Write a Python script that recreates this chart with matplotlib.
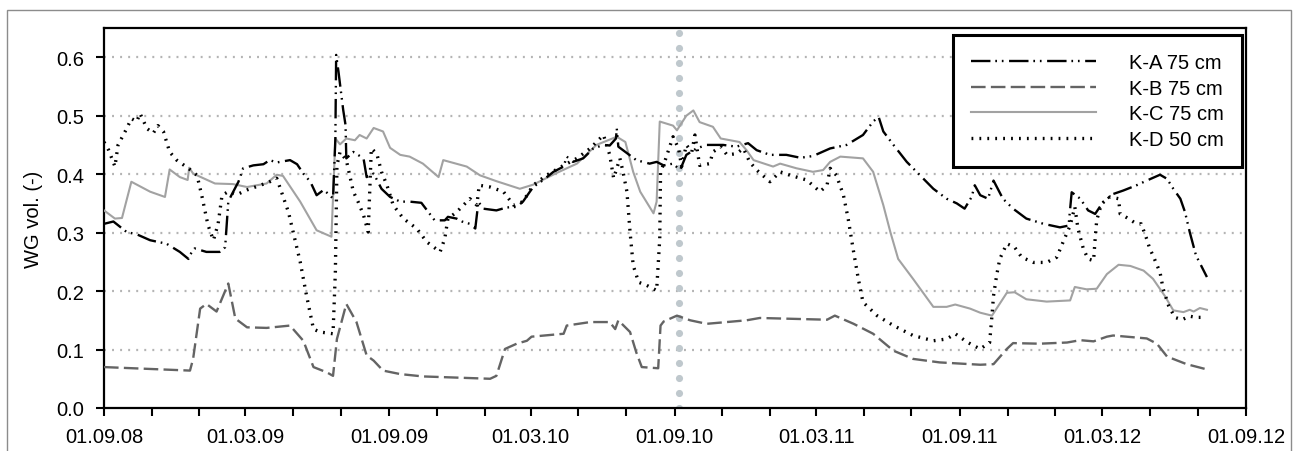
import matplotlib
matplotlib.use("Agg")
import matplotlib.pyplot as plt
import matplotlib.dates as mdates
from matplotlib.patches import Rectangle
import pandas as pd

plt.rcParams['font.family'] = ['Liberation Sans', 'DejaVu Sans']
plt.rcParams['lines.scale_dashes'] = False

START = pd.Timestamp('2008-09-01')
END = pd.Timestamp('2012-09-01')
MARKER_DATE = pd.Timestamp('2010-09-06')

labels = ['K-A 75 cm', 'K-B 75 cm', 'K-C 75 cm', 'K-D 50 cm']

# days since 01.09.08 and volumetric water content (-)
days_A = [0, 12, 29, 42, 59, 80, 97, 108, 110, 116, 131, 148, 155, 157, 159, 163, 172, 178, 191, 204,
          212, 221, 238, 247, 255, 264, 272, 281, 289, 293, 296, 297, 300, 306, 309, 310, 319, 332, 336, 345,
          355, 366, 379, 391, 406, 415, 423, 436, 440, 451, 458, 468, 475, 479, 485, 502, 515, 528, 536, 549,
          562, 575, 588, 592, 600, 613, 626, 639, 647, 655, 656, 658, 664, 681, 698, 707, 716, 728, 737, 745,
          758, 771, 792, 809, 824, 835, 852, 873, 891, 907, 929, 950, 971, 984, 991, 997, 1010, 1027, 1044, 1061,
          1078, 1091, 1101, 1110, 1114, 1121, 1131, 1138, 1150, 1163, 1180, 1202, 1223, 1234, 1236, 1238, 1249, 1259, 1268, 1278,
          1291, 1304, 1321, 1334, 1351, 1360, 1368, 1377, 1383, 1389, 1397, 1411]
vals_A = [0.315, 0.319, 0.301, 0.297, 0.287, 0.281, 0.267, 0.255, 0.262, 0.273, 0.267, 0.267, 0.275, 0.313, 0.353, 0.364, 0.387, 0.410, 0.415, 0.417,
          0.424, 0.420, 0.424, 0.417, 0.401, 0.387, 0.364, 0.373, 0.364, 0.358, 0.461, 0.604, 0.575, 0.510, 0.484, 0.427, 0.438, 0.427, 0.395, 0.401,
          0.375, 0.361, 0.353, 0.353, 0.351, 0.335, 0.321, 0.321, 0.327, 0.324, 0.319, 0.315, 0.307, 0.353, 0.341, 0.338, 0.343, 0.344, 0.353, 0.378,
          0.390, 0.404, 0.413, 0.430, 0.421, 0.427, 0.444, 0.450, 0.449, 0.461, 0.478, 0.447, 0.441, 0.424, 0.418, 0.421, 0.415, 0.418, 0.407, 0.433,
          0.444, 0.450, 0.450, 0.447, 0.453, 0.441, 0.433, 0.433, 0.428, 0.431, 0.444, 0.450, 0.467, 0.490, 0.498, 0.473, 0.450, 0.421, 0.398, 0.375,
          0.358, 0.350, 0.341, 0.361, 0.381, 0.364, 0.358, 0.389, 0.358, 0.341, 0.324, 0.315, 0.309, 0.312, 0.341, 0.369, 0.358, 0.338, 0.332, 0.352,
          0.366, 0.372, 0.381, 0.389, 0.399, 0.392, 0.375, 0.358, 0.335, 0.301, 0.261, 0.224]

days_B = [0, 110, 114, 123, 131, 144, 159, 168, 183, 208, 238, 255, 268, 285, 293, 298, 310, 323, 336, 345,
          357, 379, 408, 494, 502, 513, 528, 541, 547, 588, 592, 622, 647, 654, 658, 673, 681, 688, 709, 712,
          716, 733, 750, 771, 822, 839, 925, 935, 959, 984, 1010, 1035, 1069, 1121, 1138, 1155, 1163, 1197, 1232, 1249,
          1266, 1283, 1291, 1334, 1347, 1360, 1385, 1411]
vals_B = [0.070, 0.064, 0.084, 0.170, 0.178, 0.165, 0.213, 0.153, 0.138, 0.137, 0.141, 0.115, 0.070, 0.061, 0.055, 0.118, 0.178, 0.147, 0.090, 0.081,
          0.064, 0.058, 0.054, 0.050, 0.055, 0.101, 0.110, 0.115, 0.122, 0.127, 0.141, 0.147, 0.147, 0.135, 0.150, 0.130, 0.095, 0.070, 0.068, 0.141,
          0.148, 0.158, 0.150, 0.144, 0.150, 0.154, 0.151, 0.158, 0.144, 0.127, 0.098, 0.084, 0.078, 0.074, 0.075, 0.101, 0.111, 0.110, 0.112, 0.116,
          0.114, 0.122, 0.124, 0.119, 0.110, 0.088, 0.075, 0.066]

days_C = [0, 14, 23, 35, 59, 78, 84, 97, 107, 109, 114, 142, 165, 183, 208, 221, 229, 251, 272, 291,
          296, 302, 310, 321, 327, 336, 345, 357, 366, 379, 391, 408, 428, 434, 464, 481, 502, 532, 549, 579,
          605, 630, 656, 667, 677, 686, 703, 707, 711, 728, 733, 745, 754, 762, 779, 789, 813, 822, 831, 856,
          865, 886, 907, 920, 929, 942, 971, 984, 997, 1006, 1016, 1035, 1061, 1078, 1089, 1108, 1121, 1136, 1155, 1165,
          1180, 1206, 1236, 1242, 1257, 1270, 1283, 1298, 1313, 1330, 1342, 1357, 1368, 1381, 1389, 1394, 1402, 1411]
vals_C = [0.338, 0.324, 0.325, 0.387, 0.370, 0.361, 0.408, 0.395, 0.390, 0.411, 0.401, 0.384, 0.383, 0.378, 0.384, 0.399, 0.397, 0.353, 0.304, 0.293,
          0.461, 0.451, 0.461, 0.458, 0.467, 0.461, 0.479, 0.473, 0.445, 0.433, 0.430, 0.418, 0.395, 0.424, 0.413, 0.398, 0.388, 0.375, 0.382, 0.402,
          0.418, 0.450, 0.464, 0.455, 0.404, 0.370, 0.333, 0.353, 0.490, 0.483, 0.475, 0.500, 0.509, 0.489, 0.481, 0.461, 0.455, 0.441, 0.424, 0.413,
          0.418, 0.410, 0.404, 0.407, 0.421, 0.430, 0.427, 0.404, 0.347, 0.301, 0.255, 0.221, 0.173, 0.173, 0.177, 0.170, 0.163, 0.158, 0.197, 0.198,
          0.186, 0.182, 0.184, 0.207, 0.203, 0.204, 0.229, 0.245, 0.243, 0.235, 0.221, 0.192, 0.167, 0.164, 0.168, 0.165, 0.171, 0.168]

days_D = [0, 6, 14, 18, 29, 35, 42, 46, 55, 63, 69, 76, 84, 93, 108, 119, 125, 133, 140, 146,
          151, 159, 170, 183, 200, 212, 221, 227, 236, 244, 251, 259, 268, 276, 293, 296, 298, 302, 310, 319,
          325, 332, 338, 342, 349, 355, 362, 370, 383, 400, 413, 430, 436, 440, 451, 468, 477, 480, 494, 511,
          524, 536, 549, 566, 588, 605, 622, 639, 647, 652, 660, 664, 669, 673, 677, 684, 694, 707, 711, 712,
          718, 728, 735, 739, 745, 752, 756, 762, 775, 779, 789, 797, 809, 818, 826, 835, 852, 865, 878, 899,
          916, 925, 929, 937, 946, 952, 959, 965, 971, 989, 1010, 1035, 1061, 1078, 1089, 1104, 1112, 1121, 1133, 1136,
          1138, 1142, 1146, 1155, 1165, 1174, 1189, 1206, 1219, 1227, 1236, 1242, 1246, 1253, 1259, 1266, 1268, 1270, 1276, 1287,
          1298, 1300, 1308, 1321, 1327, 1334, 1338, 1342, 1351, 1355, 1362, 1370, 1379, 1389, 1397, 1409]
vals_D = [0.455, 0.441, 0.413, 0.450, 0.478, 0.495, 0.490, 0.504, 0.478, 0.470, 0.483, 0.473, 0.438, 0.424, 0.410, 0.398, 0.364, 0.313, 0.287, 0.315,
          0.364, 0.370, 0.365, 0.373, 0.381, 0.387, 0.393, 0.370, 0.335, 0.290, 0.250, 0.193, 0.135, 0.130, 0.127, 0.233, 0.415, 0.438, 0.424, 0.370,
          0.353, 0.330, 0.301, 0.444, 0.435, 0.404, 0.381, 0.347, 0.324, 0.307, 0.284, 0.267, 0.290, 0.324, 0.335, 0.358, 0.347, 0.381, 0.378, 0.370,
          0.347, 0.353, 0.381, 0.398, 0.415, 0.427, 0.444, 0.467, 0.433, 0.393, 0.427, 0.404, 0.370, 0.301, 0.244, 0.215, 0.210, 0.201, 0.290, 0.404,
          0.424, 0.464, 0.444, 0.413, 0.450, 0.438, 0.467, 0.415, 0.418, 0.438, 0.447, 0.433, 0.435, 0.444, 0.421, 0.407, 0.387, 0.404, 0.398, 0.390,
          0.370, 0.381, 0.410, 0.398, 0.364, 0.324, 0.267, 0.221, 0.181, 0.158, 0.141, 0.124, 0.115, 0.118, 0.127, 0.113, 0.107, 0.101, 0.112, 0.158,
          0.192, 0.227, 0.255, 0.281, 0.275, 0.258, 0.249, 0.249, 0.258, 0.284, 0.312, 0.344, 0.307, 0.272, 0.255, 0.252, 0.289, 0.321, 0.349, 0.361,
          0.358, 0.332, 0.326, 0.315, 0.315, 0.289, 0.272, 0.261, 0.232, 0.204, 0.175, 0.155, 0.151, 0.157, 0.155, 0.155]

y_ticks = [0.0, 0.1, 0.2, 0.3, 0.4, 0.5, 0.6]

FS = 14.5


def to_dates(days):
    return START + pd.to_timedelta(days, unit='D')


W, H = 1293, 452
fig = plt.figure(figsize=(W / 100, H / 100), dpi=100)
ax = fig.add_axes([104 / W, 1 - 409 / H, (1246 - 104) / W, (409 - 29) / H])

# outer frame
fig.patches.append(Rectangle((7 / W, -0.1), (1291 - 7) / W, 1.1 - 11 / H,
                             transform=fig.transFigure, fill=False,
                             edgecolor='#8c8c8c', linewidth=1.0))

# grid
for yv in y_ticks[1:]:
    ax.axhline(yv, color='#b4b4b4', linewidth=1.6, dashes=(1.4, 4.4), zorder=1)

# vertical marker
ax.axvline(MARKER_DATE, color='#bfc8cd', linewidth=5.2, dashes=(0.001, 10.8),
           dash_capstyle='round', zorder=2)

ax.plot(to_dates(days_A), vals_A, color='black', linewidth=1.7,
        dashes=(14, 3.5, 1.2, 3.5, 1.2, 4), label=labels[0], zorder=5)
ax.plot(to_dates(days_B), vals_B, color='#646464', linewidth=1.7,
        dashes=(10.5, 3.8), label=labels[1], zorder=4)
ax.plot(to_dates(days_C), vals_C, color='#a2a2a2', linewidth=1.5,
        label=labels[2], zorder=3)
ax.plot(to_dates(days_D), vals_D, color='black', linewidth=2.4,
        dashes=(1.3, 4.4), label=labels[3], zorder=6)

ax.set_xlim(START, END)
ax.set_ylim(0, 0.65)
ax.set_yticks(y_ticks)
ax.set_yticklabels([f'{v:.1f}' for v in y_ticks])

ax.xaxis.set_major_locator(mdates.MonthLocator(bymonth=[3, 9], bymonthday=1))
ax.xaxis.set_minor_locator(mdates.MonthLocator(bymonth=[1, 5, 7, 11], bymonthday=1))
ax.xaxis.set_major_formatter(mdates.DateFormatter('%d.%m.%y'))

ax.tick_params(axis='both', which='both', direction='out', length=6, width=1.5,
               color='black', labelsize=FS, labelcolor='black')
ax.tick_params(axis='x', which='major', pad=8)
ax.tick_params(axis='y', which='major', pad=8)

for s in ax.spines.values():
    s.set_linewidth(1.6)
    s.set_color('black')

ax.set_ylabel('WG vol. (-)', fontsize=FS, labelpad=10)

leg = ax.legend(loc='upper right', bbox_to_anchor=(1242 / W, 1 - 36 / H),
                bbox_transform=fig.transFigure, fontsize=FS, frameon=True,
                fancybox=False, handlelength=6.2, handletextpad=1.65,
                borderpad=0.9, labelspacing=0.33, borderaxespad=0)
leg.get_frame().set_edgecolor('black')
leg.get_frame().set_linewidth(2.2)
leg.get_frame().set_facecolor('white')
leg.get_frame().set_alpha(1)
leg.set_zorder(10)

fig.savefig('out.png', dpi=100)
